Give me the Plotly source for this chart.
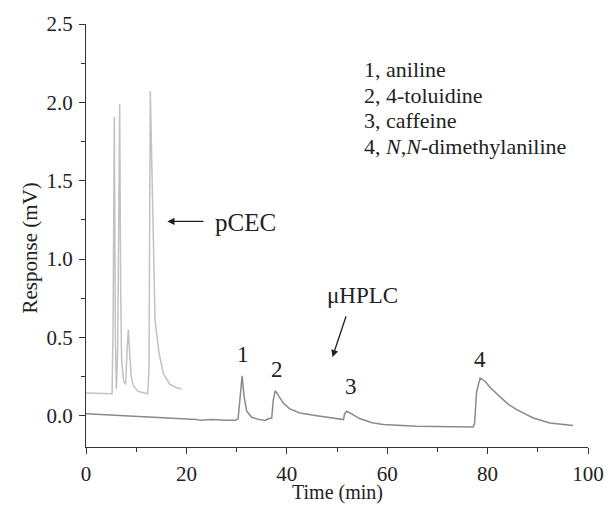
import plotly.graph_objects as go

# pCEC chromatogram (time in min, response in mV)
pcec_time = [0, 4.0, 5.2, 5.4, 5.64, 5.85, 6.05, 6.3, 6.71, 6.9, 7.1, 7.5, 7.9, 8.15,
             8.43, 8.7, 9.0, 9.43, 10.4, 12.3, 12.55, 12.81, 13.05, 13.28, 13.75,
             14.54, 15.4, 16.7, 18.0, 19.06]
pcec_resp = [0.145, 0.14, 0.14, 0.6, 1.91, 0.5, 0.17, 0.4, 1.99, 0.8, 0.35, 0.22, 0.2, 0.4,
             0.55, 0.4, 0.25, 0.19, 0.155, 0.14, 0.3, 2.07, 1.7, 1.25, 0.61,
             0.40, 0.27, 0.2, 0.18, 0.17]

# uHPLC chromatogram
hplc_time = [0, 5, 10, 15, 20, 22, 23, 25, 28, 29.8, 30.3, 30.7, 31.1, 31.5, 32, 33,
             34.5, 35.7, 36.3, 37.0, 37.3, 37.7, 38.3, 39.3, 40.5, 42.6, 46, 49, 51.3,
             51.5, 51.9, 53, 54.6, 57, 59.2, 65.8, 72, 77.1, 77.4, 77.8, 78.5, 79.5,
             80.5, 82.5, 84, 85.8, 87.5, 89.1, 92.4, 95, 97]
hplc_resp = [0.013, 0.005, -0.005, -0.015, -0.02, -0.025, -0.03, -0.025, -0.03, -0.03,
             -0.02, 0.1, 0.255, 0.12, 0.03, -0.01, -0.025, -0.03, -0.02, -0.015, 0.1,
             0.16, 0.13, 0.08, 0.045, 0.017, 0.0, -0.012, -0.025, 0.01, 0.028, 0.01,
             -0.02, -0.045, -0.057, -0.068, -0.071, -0.072, -0.05, 0.15, 0.24, 0.22,
             0.18, 0.123, 0.075, 0.038, 0.01, -0.015, -0.047, -0.057, -0.062]

# Peak numbers and their label positions
peak_labels = ["1", "2", "3", "4"]
peak_label_x = [31.2, 38.0, 52.7, 78.5]
peak_label_y = [0.39, 0.293, 0.187, 0.36]

# Compound key
key_lines = ["1, aniline", "2, 4-toluidine", "3, caffeine",
             "4, <i>N</i>,<i>N</i>-dimethylaniline"]
key_y = [2.207, 2.041, 1.881, 1.716]

x_ticks = [0, 20, 40, 60, 80, 100]
y_ticks = [0.0, 0.5, 1.0, 1.5, 2.0, 2.5]
y_tick_text = ["0.0", "0.5", "1.0", "1.5", "2.0", "2.5"]

x_title = "Time (min)"
y_title = "Response (mV)"

FONT = "Liberation Serif, Times New Roman, serif"
AXIS = "#333333"
TEXT = "#222222"

fig = go.Figure()
fig.add_trace(go.Scatter(x=pcec_time, y=pcec_resp, mode="lines",
                         line=dict(color="#c2c2c2", width=1.5), name="pCEC"))
fig.add_trace(go.Scatter(x=hplc_time, y=hplc_resp, mode="lines",
                         line=dict(color="#8a8a8a", width=1.5), name="μHPLC"))

annotations = []
for lab, x, y in zip(peak_labels, peak_label_x, peak_label_y):
    annotations.append(dict(x=x, y=y, text=lab, showarrow=False,
                            font=dict(family=FONT, size=23, color=TEXT)))
for line, y in zip(key_lines, key_y):
    annotations.append(dict(x=55.0, y=y, text=line, showarrow=False,
                            xanchor="left", yanchor="middle",
                            font=dict(family=FONT, size=22, color=TEXT)))
# pCEC label with arrow pointing left
annotations.append(dict(x=25.3, y=1.23, text="pCEC", showarrow=False,
                        xanchor="left", yanchor="middle",
                        font=dict(family=FONT, size=25, color=TEXT)))
annotations.append(dict(x=16.2, y=1.24, ax=23.7, ay=1.24, axref="x", ayref="y",
                        text="", showarrow=True, arrowhead=2, arrowsize=1.1,
                        arrowwidth=1.3, arrowcolor=TEXT))
# uHPLC label with arrow pointing down-left
annotations.append(dict(x=47.6, y=0.77, text="μHPLC", showarrow=False,
                        xanchor="left", yanchor="middle",
                        font=dict(family=FONT, size=23, color=TEXT)))
annotations.append(dict(x=49.1, y=0.374, ax=51.9, ay=0.644, axref="x", ayref="y",
                        text="", showarrow=True, arrowhead=2, arrowsize=1.1,
                        arrowwidth=1.3, arrowcolor=TEXT))
# Axis titles
annotations.append(dict(x=0.5, y=-0.1405, xref="paper", yref="paper", text=x_title,
                        showarrow=False, xanchor="center", yanchor="bottom",
                        font=dict(family=FONT, size=20, color=TEXT)))
annotations.append(dict(x=-0.111, y=0.47, xref="paper", yref="paper", text=y_title,
                        showarrow=False, textangle=-90, xanchor="center",
                        yanchor="middle", font=dict(family=FONT, size=21, color=TEXT)))

fig.update_layout(
    width=607, height=507,
    margin=dict(l=86, r=19, t=24, b=60, autoexpand=False),
    paper_bgcolor="white", plot_bgcolor="white",
    showlegend=False,
    font=dict(family=FONT, size=21, color=TEXT),
    annotations=annotations,
)
fig.update_xaxes(
    range=[0, 100], tickvals=x_ticks, ticks="outside", ticklen=6, tickwidth=1.3,
    tickcolor=AXIS, showline=True, linecolor=AXIS, linewidth=1.3, showgrid=False,
    zeroline=False, automargin=False, tickfont=dict(family=FONT, size=21, color=TEXT),
    ticklabelstandoff=2,
    minor=dict(dtick=10, tick0=0, ticks="outside", ticklen=4, tickcolor=AXIS, tickwidth=1.3),
)
fig.update_yaxes(
    range=[-0.2, 2.5], tickvals=y_ticks, ticktext=y_tick_text, ticks="outside", ticklen=6,
    tickwidth=1.3, tickcolor=AXIS, showline=True, linecolor=AXIS, linewidth=1.3,
    showgrid=False, zeroline=False, automargin=False,
    tickfont=dict(family=FONT, size=21, color=TEXT),
    ticklabelstandoff=2,
    minor=dict(dtick=0.25, tick0=0, ticks="outside", ticklen=4, tickcolor=AXIS, tickwidth=1.3),
)

fig.write_html("out.html")
